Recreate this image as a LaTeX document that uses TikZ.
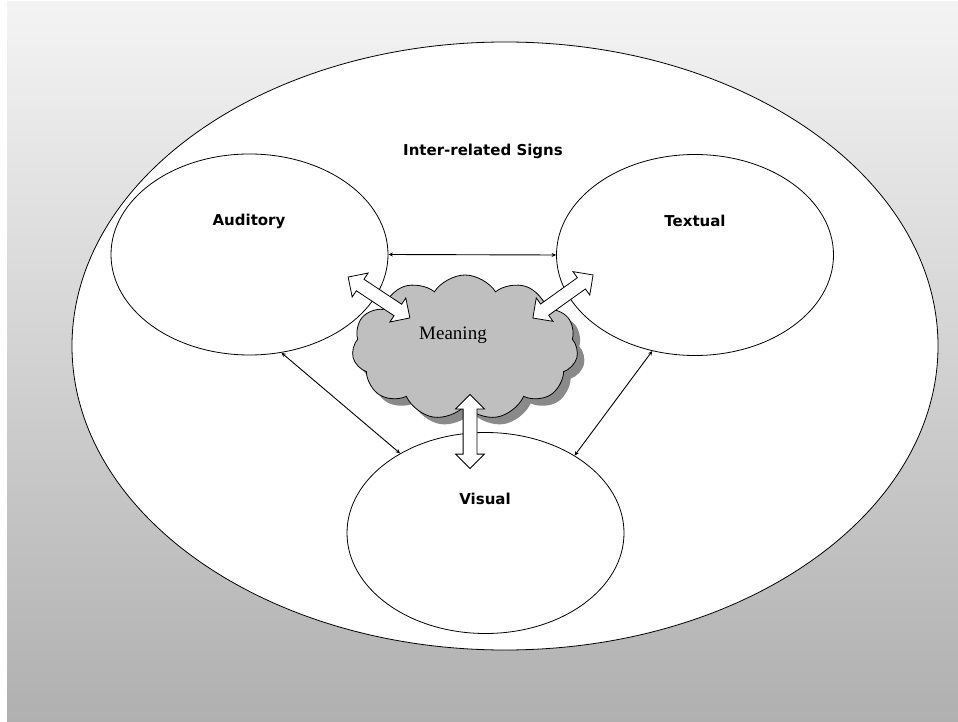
\documentclass[tikz,border=0pt]{standalone}
\usepackage{fontspec}
\newfontfamily\lblfont{DejaVu Sans}
\newfontfamily\cloudfont{Liberation Serif}
\usetikzlibrary{shapes.geometric, shapes.symbols, shapes.arrows, shadows, arrows.meta, calc}

\begin{document}
\begin{tikzpicture}[x=1pt, y=1pt,
    sign/.style={ellipse, draw, fill=white, line width=0.8pt, inner sep=0pt, minimum width=277pt, minimum height=201pt},
    lbl/.style={font=\lblfont\bfseries\fontsize{15}{18}\selectfont},
    link/.style={line width=0.9pt, {Stealth[length=4.5pt,width=4pt]}-{Stealth[length=4.5pt,width=4pt]}},
    flow/.style={double arrow, draw, fill=white, line width=0.8pt, inner xsep=0pt, inner ysep=6.5pt,
        minimum height=74pt, minimum width=28pt, double arrow head extend=7.5pt}
]
    \useasboundingbox (0,0) rectangle (958,721);
    \shade[top color=gray!9, bottom color=gray!62] (7,0) rectangle (958,719);

    \node[ellipse, draw, fill=white, line width=0.8pt, minimum width=866pt, minimum height=608pt] (signs) at (505,375) {};
    \node[lbl] (title) at (483,570) {Inter-related Signs};

    \node[sign] (auditory) at (249.5,466.5) {};
    \node[sign] (textual) at (695,466) {};
    \node[sign] (visual) at (485.5,188) {};

    \node[cloud, cloud puffs=11, cloud puff arc=115, aspect=1.55, draw, fill=gray!50, line width=0.8pt,
        minimum width=226pt, minimum height=145pt,
        drop shadow={shadow xshift=7pt, shadow yshift=-7pt, fill=gray!92, opacity=1}] (meaning) at (465,373.5) {};
    \node[font=\cloudfont\fontsize{19}{22}\selectfont] (meaningtxt) at (453,386) {Meaning};

    \draw[link] (auditory.east) -- (textual.west);
    \draw[link] (auditory.-72) -- (visual.137.7);
    \draw[link] (textual.246.6) -- (visual.41.3);

    \node[flow, rotate=-33.5] (audflow) at (379,423.5) {};
    \node[flow, rotate=35.6] (texflow) at (563,424.5) {};
    \node[flow, rotate=90] (visflow) at (470,289.5) {};

    \node[lbl] (audlbl) at (249,500) {Auditory};
    \node[lbl] (texlbl) at (695,500) {Textual};
    \node[lbl] (vislbl) at (485,222) {Visual};
\end{tikzpicture}
\end{document}
